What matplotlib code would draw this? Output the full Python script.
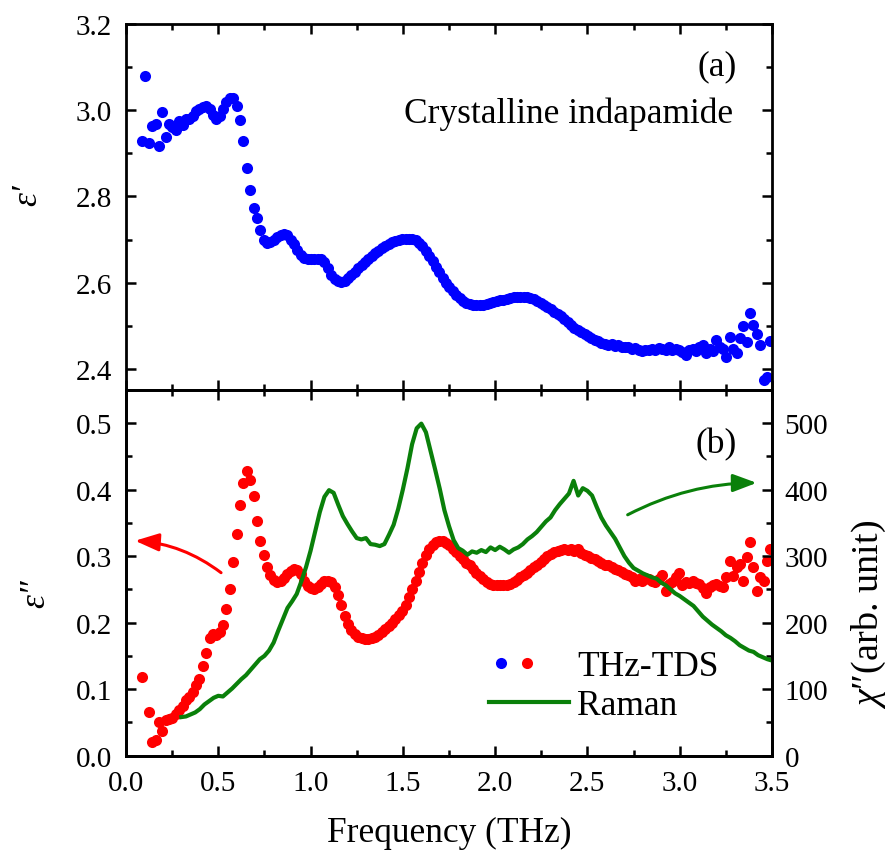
import numpy as np
import matplotlib
matplotlib.use('Agg')
import matplotlib.pyplot as plt
from matplotlib.lines import Line2D
from matplotlib.legend_handler import HandlerBase
from matplotlib.ticker import MultipleLocator, FormatStrFormatter

plt.rcParams['font.family'] = ['Liberation Serif', 'DejaVu Serif']
plt.rcParams['mathtext.fontset'] = 'custom'
plt.rcParams['mathtext.rm'] = 'Liberation Serif'
plt.rcParams['mathtext.it'] = 'Liberation Serif:italic'

# ---------------- data ----------------
tds_freq = np.round(0.087 + 0.0183 * np.arange(187), 4)   # THz sampling grid

eps_real = [
    2.929, 3.080, 2.923, 2.963, 2.967, 2.917, 2.995, 2.937, 2.968, 2.962,
    2.955, 2.975, 2.965, 2.979, 2.980, 2.987, 2.998, 3.002, 3.007, 3.011,
    3.003, 2.988, 2.980, 2.987, 3.003, 3.019, 3.028, 3.028, 3.010, 2.978,
    2.929, 2.865, 2.814, 2.774, 2.749, 2.722, 2.698, 2.692, 2.694, 2.700,
    2.706, 2.710, 2.712, 2.710, 2.700, 2.690, 2.677, 2.665, 2.658, 2.655,
    2.655, 2.656, 2.656, 2.654, 2.648, 2.634, 2.618, 2.608, 2.603, 2.601,
    2.603, 2.610, 2.618, 2.626, 2.634, 2.642, 2.649, 2.655, 2.662, 2.668,
    2.674, 2.680, 2.686, 2.690, 2.694, 2.697, 2.700, 2.701, 2.702, 2.702,
    2.701, 2.699, 2.693, 2.685, 2.673, 2.662, 2.650, 2.637, 2.624, 2.611,
    2.600, 2.590, 2.580, 2.571, 2.564, 2.558, 2.554, 2.551, 2.549, 2.548,
    2.548, 2.549, 2.551, 2.552, 2.555, 2.557, 2.559, 2.561, 2.563, 2.564,
    2.566, 2.567, 2.567, 2.567, 2.566, 2.565, 2.562, 2.558, 2.554, 2.549,
    2.543, 2.538, 2.532, 2.527, 2.522, 2.515, 2.508, 2.502, 2.496, 2.490,
    2.485, 2.480, 2.476, 2.472, 2.468, 2.465, 2.461, 2.459, 2.456, 2.458,
    2.453, 2.455, 2.451, 2.450, 2.452, 2.446, 2.448, 2.443, 2.441, 2.445,
    2.444, 2.447, 2.445, 2.449, 2.446, 2.444, 2.450, 2.445, 2.447, 2.443,
    2.439, 2.433, 2.443, 2.447, 2.441, 2.450, 2.455, 2.437, 2.447, 2.441,
    2.468, 2.452, 2.447, 2.428, 2.474, 2.447, 2.436, 2.471, 2.499, 2.462,
    2.531, 2.501, 2.480, 2.456, 2.374, 2.381, 2.466,
]

eps_imag = [
    0.118, np.nan, 0.066, 0.020, 0.024, 0.050, 0.037, 0.053, 0.055, 0.057,
    0.062, 0.068, 0.075, 0.083, 0.088, 0.095, 0.106, 0.115, 0.135, 0.154,
    0.177, 0.183, 0.182, 0.186, 0.197, 0.220, 0.251, 0.291, 0.333, 0.377,
    0.410, 0.428, 0.414, 0.390, 0.353, 0.322, 0.301, 0.284, 0.272, 0.264,
    0.261, 0.262, 0.267, 0.273, 0.278, 0.281, 0.279, 0.273, 0.262, 0.255,
    0.252, 0.251, 0.254, 0.258, 0.262, 0.263, 0.261, 0.253, 0.241, 0.227,
    0.210, 0.198, 0.189, 0.183, 0.179, 0.177, 0.176, 0.176, 0.177, 0.179,
    0.182, 0.186, 0.190, 0.195, 0.199, 0.205, 0.211, 0.218, 0.227, 0.238,
    0.250, 0.262, 0.276, 0.290, 0.302, 0.311, 0.317, 0.321, 0.322, 0.322,
    0.320, 0.316, 0.311, 0.306, 0.300, 0.295, 0.290, 0.286, 0.280, 0.275,
    0.270, 0.265, 0.261, 0.258, 0.256, 0.256, 0.256, 0.256, 0.257, 0.258,
    0.261, 0.264, 0.268, 0.271, 0.275, 0.279, 0.283, 0.287, 0.291, 0.295,
    0.300, 0.303, 0.306, 0.308, 0.309, 0.310, 0.309, 0.311, 0.308, 0.310,
    0.305, 0.302, 0.300, 0.297, 0.296, 0.292, 0.290, 0.287, 0.286, 0.283,
    0.281, 0.279, 0.276, 0.273, 0.272, 0.268, 0.262, 0.266, 0.263, 0.267,
    0.266, 0.262, 0.261, 0.265, 0.271, 0.248, 0.258, 0.261, 0.268, 0.275,
    0.256, 0.261, 0.259, 0.263, 0.260, 0.258, 0.252, 0.245, 0.253, 0.257,
    0.258, 0.255, 0.253, 0.269, 0.293, 0.270, 0.283, 0.288, 0.263, 0.298,
    0.321, 0.283, 0.248, 0.268, 0.262, 0.293, 0.311,
]

raman_freq = np.round(0.300 + 0.025 * np.arange(129), 3)
raman_chi = [
    58, 59, 62, 65, 70, 77, 82, 87, 90, 89,
    95, 101, 108, 115, 121, 129, 137, 145, 150, 158,
    170, 188, 205, 222, 232, 243, 262, 283, 308, 337,
    366, 389, 399, 395, 377, 360, 348, 337, 327, 325,
    327, 318, 317, 315, 318, 332, 347, 371, 400, 432,
    468, 492, 499, 486, 458, 430, 401, 369, 345, 324,
    312, 308, 302, 307, 305, 309, 306, 313, 309, 314,
    310, 305, 310, 313, 318, 325, 330, 336, 344, 352,
    358, 369, 378, 386, 394, 413, 391, 402, 398, 391,
    374, 358, 346, 336, 326, 313, 300, 290, 282, 278,
    274, 271, 268, 266, 260, 256, 250, 244, 240, 235,
    230, 225, 217, 209, 203, 197, 192, 187, 181, 177,
    172, 166, 162, 158, 156, 151, 148, 145, 143,
]

x_ticks = [0.0, 0.5, 1.0, 1.5, 2.0, 2.5, 3.0, 3.5]
eps_real_ticks = [2.4, 2.6, 2.8, 3.0, 3.2]
eps_imag_ticks = [0.0, 0.1, 0.2, 0.3, 0.4, 0.5]
chi_ticks = [0, 100, 200, 300, 400, 500]

BLUE = '#0000ff'
RED = '#ff0000'
GREEN = '#0a800a'
MS = 8.0
TICK_FS = 21
LABEL_FS = 25.5

# ---------------- figure ----------------
fig = plt.figure(figsize=(8.91, 8.54), dpi=100)
ax1 = fig.add_axes([0.14141, 0.54251, 0.72503, 0.42822])
ax2 = fig.add_axes([0.14141, 0.11393, 0.72503, 0.42858])
ax2b = ax2.twinx()

# top panel
ax1.plot(tds_freq, eps_real, 'o', color=BLUE, ms=MS, mec='none', ls='none')
ax1.set_xlim(0, 3.5)
ax1.set_ylim(2.352, 3.2)
ax1.set_xticks(x_ticks)
ax1.set_yticks(eps_real_ticks)
ax1.xaxis.set_minor_locator(MultipleLocator(0.25))
ax1.yaxis.set_minor_locator(MultipleLocator(0.1))
ax1.yaxis.set_major_formatter(FormatStrFormatter('%.1f'))
ax1.tick_params(axis='x', labelbottom=False)
ax1.tick_params(which='both', direction='in', top=True, right=True, labelsize=TICK_FS)
ax1.tick_params(axis='y', pad=10)
ax1.set_ylabel('ε′', fontsize=LABEL_FS, fontstyle='italic', va='center', ha='center')
ax1.yaxis.set_label_coords(-0.152, 0.535)
ax1.text(0.946, 0.885, '(a)', transform=ax1.transAxes, ha='right', va='center',
         fontsize=LABEL_FS)
ax1.text(0.9396, 0.733, 'Crystalline indapamide', transform=ax1.transAxes,
         ha='right', va='baseline', fontsize=LABEL_FS)

# bottom panel
ax2.plot(tds_freq, eps_imag, 'o', color=RED, ms=MS, mec='none', ls='none')
ax2.set_xlim(0, 3.5)
ax2.set_ylim(0, 0.55)
ax2.set_xticks(x_ticks)
ax2.set_yticks(eps_imag_ticks)
ax2.xaxis.set_minor_locator(MultipleLocator(0.25))
ax2.yaxis.set_minor_locator(MultipleLocator(0.05))
ax2.xaxis.set_major_formatter(FormatStrFormatter('%.1f'))
ax2.yaxis.set_major_formatter(FormatStrFormatter('%.1f'))
ax2.tick_params(which='both', direction='in', top=True, right=False, labelsize=TICK_FS)
ax2.tick_params(axis='y', pad=10)
ax2.tick_params(axis='x', pad=10)
ax2.set_xlabel('Frequency (THz)', fontsize=LABEL_FS, labelpad=15)
ax2.set_ylabel('ε″', fontsize=LABEL_FS, fontstyle='italic', va='center', ha='center')
ax2.yaxis.set_label_coords(-0.139, 0.445)
ax2.text(0.946, 0.852, '(b)', transform=ax2.transAxes, ha='right', va='center',
         fontsize=LABEL_FS)

ax2b.plot(raman_freq, raman_chi, '-', color=GREEN, lw=3.0)
ax2b.set_ylim(0, 550)
ax2b.set_yticks(chi_ticks)
ax2b.yaxis.set_minor_locator(MultipleLocator(50))
ax2b.tick_params(which='both', direction='in', labelsize=TICK_FS)
ax2b.tick_params(axis='y', pad=9)
ax2b.set_ylabel(r'$\chi$″(arb. unit)', fontsize=27.5, va='center', ha='center')
ax2b.yaxis.set_label_coords(1.150, 0.3875)

for ax in (ax1, ax2, ax2b):
    for s in ax.spines.values():
        s.set_linewidth(2.0)
    ax.tick_params(which='major', length=7.5, width=1.8)
    ax.tick_params(which='minor', length=4.5, width=1.8)

# arrows
ax2.annotate('', xy=(0.049, 0.323), xytext=(0.515, 0.275),
             arrowprops=dict(arrowstyle='-|>,head_length=0.8,head_width=0.3',
                             color=RED, lw=2.2, mutation_scale=18,
                             connectionstyle='arc3,rad=0.15',
                             shrinkA=0, shrinkB=0))
ax2b.annotate('', xy=(3.417, 410), xytext=(2.718, 362),
              arrowprops=dict(arrowstyle='-|>,head_length=0.8,head_width=0.3',
                              color=GREEN, lw=2.2, mutation_scale=18,
                              connectionstyle='arc3,rad=-0.12',
                              shrinkA=0, shrinkB=0))

# legend
class TwoDots(HandlerBase):
    def create_artists(self, legend, orig_handle, xdescent, ydescent,
                       width, height, fontsize, trans):
        y = height / 2 - ydescent
        x0 = -xdescent
        arts = []
        for frac, col in ((0.15, BLUE), (0.475, RED)):
            a = Line2D([x0 + frac * width], [y], marker='o', color=col,
                       ms=MS, mec='none', ls='none')
            a.set_transform(trans)
            arts.append(a)
        return arts

tds_handle = Line2D([], [], marker='o', color=RED, ls='none')
raman_handle = Line2D([], [], color=GREEN, lw=3.0)
leg = ax2b.legend([tds_handle, raman_handle], ['THz-TDS', 'Raman'],
                  handler_map={tds_handle: TwoDots()},
                  loc='upper left', bbox_to_anchor=(0.562, 0.289),
                  frameon=False, fontsize=LABEL_FS, handlelength=2.26,
                  handletextpad=0.22, labelspacing=0.185,
                  borderpad=0, borderaxespad=0)

fig.savefig('out.png', dpi=100)
